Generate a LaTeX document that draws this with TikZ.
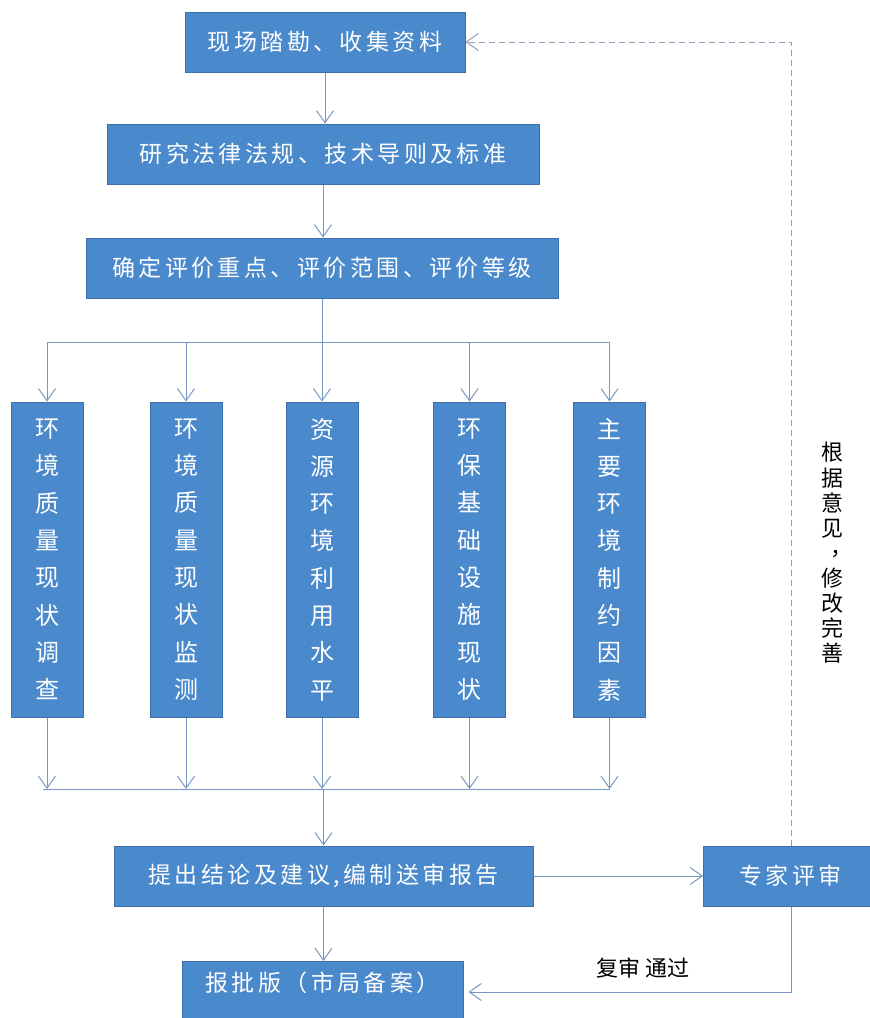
\documentclass[tikz,border=0pt]{standalone}
\usepackage{fontspec}
\setmainfont{Noto Sans CJK SC}
\usetikzlibrary{arrows.meta}
\definecolor{boxblue}{HTML}{4A89CC}
\definecolor{boxedge}{HTML}{3C70A8}
\definecolor{connc}{HTML}{7896C4}
\definecolor{dashc}{HTML}{8E9DBB}
\begin{document}
\begin{tikzpicture}[x=1pt,y=-1pt,
  hbox/.style={draw=boxedge, fill=boxblue, line width=1pt, text=white, inner sep=0pt,
    font=\fontsize{23}{28}\selectfont\addfontfeature{LetterSpace=15}},
  vbox/.style={draw=boxedge, fill=boxblue, line width=1pt, text=white, inner sep=0pt,
    minimum width=72pt, minimum height=315pt, align=center,
    font=\fontsize{24}{37.3}\selectfont},
  conline/.style={draw=connc, line width=1pt},
  arr/.style={conline, -{Straight Barb[length=12pt,width=17pt]}},
  dasharr/.style={draw=dashc, line width=1pt, dash pattern=on 6pt off 4pt,
    -{Straight Barb[length=12pt,width=17pt]}},
  lbl/.style={text=black, inner sep=0pt, font=\fontsize{22}{25}\selectfont},
  vlbl/.style={text=black, inner sep=0pt, align=center, font=\fontsize{22}{25.1}\selectfont}
]
\useasboundingbox (0,0) rectangle (870,1018);
\clip (0,0) rectangle (870,1018);

\node[hbox, minimum width=280pt, minimum height=60pt] (b1) at (325,42) {现场踏勘、收集资料};
\node[hbox, minimum width=432pt, minimum height=60pt] (b2) at (323,154) {研究法律法规、技术导则及标准};
\node[hbox, minimum width=472pt, minimum height=60pt] (b3) at (322,268) {确定评价重点、评价范围、评价等级};

\node[vbox] (v1) at (47,559.5) {环\\境\\质\\量\\现\\状\\调\\查};
\node[vbox] (v2) at (186,559.5) {环\\境\\质\\量\\现\\状\\监\\测};
\node[vbox] (v3) at (322,559.5) {资\\源\\环\\境\\利\\用\\水\\平};
\node[vbox] (v4) at (469.5,559.5) {环\\保\\基\\础\\设\\施\\现\\状};
\node[vbox] (v5) at (609.5,559.5) {主\\要\\环\\境\\制\\约\\因\\素};

\node[hbox, minimum width=419pt, minimum height=60pt] (b4) at (323.5,876) {提出结论及建议,编制送审报告};
\node[hbox, anchor=west, minimum width=200pt, minimum height=60pt] (b5) at (703,876) {专家评审\hspace*{26pt}};
\node[hbox, anchor=north, minimum width=281pt, text height=30pt, text depth=45pt] (b6) at (322.5,961) {报批版（市局备案）};

\node[lbl] (pass) at (643,968) {复审 通过};
\node[vlbl] (note) at (832,553) {根\\据\\意\\见\\\makebox[22pt][l]{\hspace*{9pt}\raisebox{6pt}{，}}\\修\\改\\完\\善};

\coordinate (split) at (322,342);
\coordinate (merge) at (322,789);
\coordinate (rx) at (791,992);
\coordinate (tx) at (791,42);

\draw[arr] (b1.south) -- (b1.south |- b2.north);
\draw[arr] (b2.south) -- (b2.south |- b3.north);
\draw[conline] (b3.south) -- (b3.south |- split);
\draw[conline] (v1.north |- split) -- (v5.north |- split);
\foreach \v in {v1,v2,v3,v4,v5}{
  \draw[arr] (\v.north |- split) -- (\v.north);
  \draw[arr] (\v.south) -- (\v.south |- merge);
}
\draw[conline] ([xshift=-4pt]v1.south |- merge) -- (v5.south |- merge);
\draw[arr] (b4.north |- merge) -- (b4.north);
\draw[arr] (b4.east) -- (b5.west);
\draw[arr] (b4.south) -- (b4.south |- b6.north);
\draw[arr, shorten >=5pt] (rx |- b5.south) -- (rx) -- (b6.east |- rx);
\draw[dasharr] (rx |- b5.north) -- (tx) -- (b1.east |- tx);
\end{tikzpicture}
\end{document}
